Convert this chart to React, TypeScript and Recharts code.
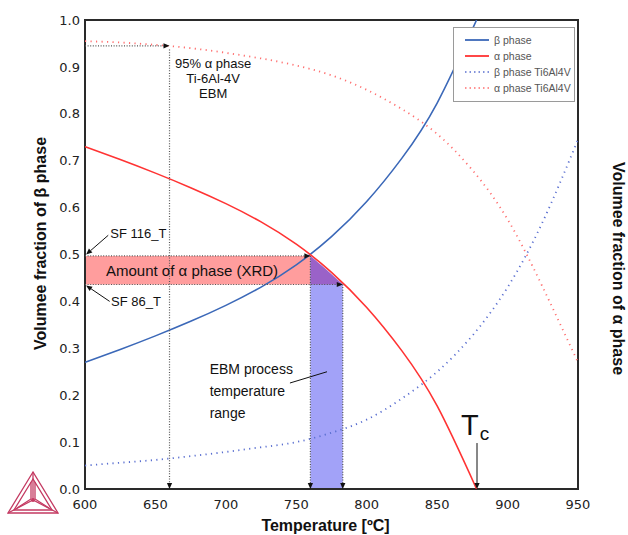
import React from 'react';
import {
  ComposedChart, Line, Area, XAxis, YAxis, ReferenceArea, ReferenceLine, ReferenceDot,
} from 'recharts';

// temperature (°C) / volume fraction
const betaT = [600, 625, 650, 675, 700, 725, 750, 775, 800, 825, 850, 878];
const betaV = [0.27, 0.2975, 0.3265, 0.3575, 0.3915, 0.4305, 0.478, 0.538, 0.613, 0.7055, 0.823, 1.0];

const alphaT = [600, 625, 650, 675, 700, 725, 750, 775, 800, 825, 850, 878];
const alphaV = [0.73, 0.7025, 0.6735, 0.6425, 0.6085, 0.5695, 0.522, 0.462, 0.387, 0.2945, 0.177, 0];

const tiT = [600, 625, 650, 675, 700, 725, 750, 775, 800, 825, 850, 875, 900, 925, 950];
const betaTiV = [0.05, 0.056, 0.062, 0.07, 0.079, 0.089, 0.1, 0.12, 0.148, 0.193, 0.25, 0.327, 0.43, 0.57, 0.745];
const alphaTiV = [0.955, 0.952, 0.947, 0.94, 0.93, 0.918, 0.903, 0.882, 0.851, 0.81, 0.757, 0.68, 0.575, 0.43, 0.27];

// EBM window, upper edge follows the α curve
const bandT = [760, 770, 783];
const bandV = [0.497, 0.471, 0.436];
const xrdLow = 0.436;
const xrdHigh = 0.497;

const xTicks = [600, 650, 700, 750, 800, 850, 900, 950];
const yTicks = [0, 0.1, 0.2, 0.3, 0.4, 0.5, 0.6, 0.7, 0.8, 0.9, 1.0];

const zip = (ts: number[], vs: number[]) => ts.map((t, i) => ({ t, v: vs[i] }));
const betaData = zip(betaT, betaV);
const alphaData = zip(alphaT, alphaV);
const betaTiData = zip(tiT, betaTiV);
const alphaTiData = zip(tiT, alphaTiV);
const bandData = zip(bandT, bandV);
const overlapData = bandT.map((t, i) => ({ t, r: [xrdLow, bandV[i]] }));

const legendItems = [
  { name: 'β phase', color: '#3b68b8', dash: '' },
  { name: 'α phase', color: '#ff3333', dash: '' },
  { name: 'β phase Ti6Al4V', color: '#5a6fd0', dash: '1.5 3' },
  { name: 'α phase Ti6Al4V', color: '#ff6f6f', dash: '1.5 3' },
];

const SANS = 'Liberation Sans, Arial, sans-serif';
const VERD = 'DejaVu Sans, Verdana, sans-serif';

// line between two data points, optional arrow head at the end
const arrow = (head: boolean, dotted: boolean) => (p: any) => {
  const { x1, y1, x2, y2 } = p;
  const dx = x2 - x1, dy = y2 - y1;
  const len = Math.hypot(dx, dy) || 1;
  const ux = dx / len, uy = dy / len;
  const L = 6, W = 2.6;
  const bx = x2 - ux * L, by = y2 - uy * L;
  return (
    <g>
      <line x1={x1} y1={y1} x2={head ? bx : x2} y2={head ? by : y2}
        stroke={dotted ? '#555' : '#111'} strokeWidth={dotted ? 1.2 : 1}
        strokeDasharray={dotted ? '1 1.6' : undefined} />
      {head && (
        <polygon fill="#111"
          points={`${x2},${y2} ${bx - uy * W},${by + ux * W} ${bx + uy * W},${by - ux * W}`} />
      )}
    </g>
  );
};

const note = (lines: string[], size: number, anchor: string, lh: number) => (p: any) => (
  <text x={p.cx} y={p.cy} fontFamily={SANS} fontSize={size} fill="#111" textAnchor={anchor}>
    {lines.map((l, i) => (
      <tspan key={i} x={p.cx} dy={i ? lh : 0}>{l}</tspan>
    ))}
  </text>
);

const tcNote = (p: any) => (
  <text x={p.cx} y={p.cy} fontFamily={SANS} fill="#111" textAnchor="middle">
    <tspan fontSize={29}>T</tspan>
    <tspan fontSize={19} dx={1} dy={5}>c</tspan>
  </text>
);

const seg = (a: [number, number], b: [number, number]) => [{ x: a[0], y: a[1] }, { x: b[0], y: b[1] }];

function Logo() {
  const c = '#c43a62';
  return (
    <svg width={66} height={60} style={{ position: 'absolute', left: 0, top: 460 }}>
      <g fill="none" stroke={c} strokeWidth={1.3}>
        <polygon points="33,12 8,53 58,53" />
        <polygon points="33,19 14,50 52,50" />
        <polyline points="33,12 33,40" />
        <polyline points="8,53 33,40 58,53" />
        <polyline points="31,22 31,39 17,48" />
        <polyline points="35,22 35,39 49,48" />
      </g>
      <circle cx={33} cy={40} r={2} fill={c} />
    </svg>
  );
}

function Legend() {
  return (
    <div style={{
      position: 'absolute', left: 453, top: 27, width: 122, height: 75,
      border: '1px solid #9a9a9a', background: '#fff', boxSizing: 'border-box',
      fontFamily: SANS, fontSize: 10.5, color: '#555',
    }}>
      {legendItems.map((it, i) => (
        <div key={it.name} style={{ position: 'absolute', left: 11, top: 5 + i * 16, height: 14, display: 'flex', alignItems: 'center' }}>
          <svg width={24} height={6} style={{ marginRight: 5 }}>
            <line x1={0} y1={3} x2={24} y2={3} stroke={it.color} strokeWidth={it.dash ? 1.6 : 1.8}
              strokeDasharray={it.dash || undefined} />
          </svg>
          <span>{it.name}</span>
        </div>
      ))}
    </div>
  );
}

const yTitle = (text: string, side: 'l' | 'r') => (p: any) => {
  const vb = p.viewBox || {};
  const mid = vb.y + vb.height / 2;
  const cy = side === 'l' ? mid - 11 : mid + 14;
  const cx = side === 'l' ? 40 : 618;
  const ang = side === 'l' ? -90 : 90;
  return (
    <text x={cx} y={cy} transform={`rotate(${ang}, ${cx}, ${cy})`} textAnchor="middle"
      dominantBaseline="central" fontFamily={SANS} fontWeight="bold" fontSize={16} fill="#111">
      {text}
    </text>
  );
};

const xTitle = (p: any) => {
  const vb = p.viewBox || {};
  const cx = vb.x + vb.width / 2 - 6;
  return (
    <text x={cx} y={531} textAnchor="middle" fontFamily={SANS} fontWeight="bold" fontSize={16} fill="#111">
      Temperature [ºC]
    </text>
  );
};

const tickStyle = { fontSize: 13, fill: '#222', fontFamily: VERD };
const ax = { xAxisId: 'b', yAxisId: 'l' } as const;

export default function App() {
  return (
    <div style={{ position: 'fixed', left: 0, top: 0, width: 628, height: 535, background: '#fff' }}>
      <ComposedChart width={628} height={535} margin={{ top: 20, right: 0, bottom: 0, left: 0 }}>
        <XAxis xAxisId="b" dataKey="t" type="number" domain={[600, 950]} ticks={xTicks} height={46}
          axisLine={false} tickLine={false} tickSize={0} tickMargin={11} tick={tickStyle}
          allowDataOverflow label={{ content: xTitle }} />
        <YAxis yAxisId="l" type="number" domain={[0, 1]} ticks={yTicks} width={85}
          axisLine={false} tickLine={false} tickSize={0} tickMargin={5} tick={tickStyle}
          tickFormatter={(v: number) => v.toFixed(1)} allowDataOverflow
          label={{ content: yTitle('Volumee fraction of β phase', 'l') }} />
        <YAxis yAxisId="r" orientation="right" type="number" domain={[0, 1]} ticks={yTicks} width={50}
          axisLine={false} tickLine={false} tickSize={0} tickMargin={5} tick={tickStyle}
          tickFormatter={(v: number) => v.toFixed(1)}
          label={{ content: yTitle('Volumee fraction of α phase', 'r') }} />

        <ReferenceArea {...ax} x1={600} x2={760} y1={xrdLow} y2={xrdHigh} fill="#ff9d9d" fillOpacity={1} stroke="none" />
        <Area {...ax} data={bandData} dataKey="v" type="linear" baseValue={0} fill="#a2a2f8" fillOpacity={1}
          stroke="none" isAnimationActive={false} />
        <Area {...ax} data={overlapData} dataKey="r" type="linear" fill="#9a62c8" fillOpacity={1}
          stroke="none" isAnimationActive={false} />

        <Line {...ax} data={alphaTiData} dataKey="v" type="natural" stroke="#ff6f6f" strokeWidth={1.8}
          strokeDasharray="1.2 4.3" dot={false} isAnimationActive={false} />
        <Line {...ax} data={betaTiData} dataKey="v" type="natural" stroke="#5a6fd0" strokeWidth={1.8}
          strokeDasharray="1.2 4.3" dot={false} isAnimationActive={false} />
        <Line {...ax} data={betaData} dataKey="v" type="natural" stroke="#3b68b8" strokeWidth={1.6}
          dot={false} isAnimationActive={false} />
        <Line {...ax} data={alphaData} dataKey="v" type="natural" stroke="#ff3333" strokeWidth={1.6}
          dot={false} isAnimationActive={false} />

        {/* dotted guides */}
        <ReferenceLine {...ax} segment={seg([600, 0.945], [660, 0.945])} shape={arrow(true, true)} />
        <ReferenceLine {...ax} segment={seg([660, 0.937], [660, 0])} shape={arrow(true, true)} />
        <ReferenceLine {...ax} segment={seg([600, xrdHigh], [760, xrdHigh])} shape={arrow(true, true)} />
        <ReferenceLine {...ax} segment={seg([600, xrdLow], [783, xrdLow])} shape={arrow(true, true)} />
        <ReferenceLine {...ax} segment={seg([760, xrdHigh], [760, 0])} shape={arrow(true, true)} />
        <ReferenceLine {...ax} segment={seg([783, xrdLow], [783, 0])} shape={arrow(true, true)} />

        {/* pointers */}
        <ReferenceLine {...ax} segment={seg([616.5, 0.541], [600.8, 0.5])} shape={arrow(true, false)} />
        <ReferenceLine {...ax} segment={seg([617.5, 0.4], [600.8, 0.434])} shape={arrow(true, false)} />
        <ReferenceLine {...ax} segment={seg([745.5, 0.226], [771.8, 0.25])} shape={arrow(false, false)} />
        <ReferenceLine {...ax} segment={seg([878.3, 0.098], [878.3, 0])} shape={arrow(true, false)} />

        <ReferenceDot {...ax} x={691} y={0.898} r={0} shape={note(['95% α phase', 'Ti-6Al-4V', 'EBM'], 13, 'middle', 15)} />
        <ReferenceDot {...ax} x={676} y={0.455} r={0} shape={note(['Amount of α phase (XRD)'], 15, 'middle', 0)} />
        <ReferenceDot {...ax} x={618} y={0.535} r={0} shape={note(['SF 116_T'], 13, 'start', 0)} />
        <ReferenceDot {...ax} x={618.5} y={0.39} r={0} shape={note(['SF 86_T'], 13, 'start', 0)} />
        <ReferenceDot {...ax} x={688.5} y={0.245} r={0} shape={note(['EBM process', 'temperature', 'range'], 14, 'start', 22)} />
        <ReferenceDot {...ax} x={877} y={0.115} r={0} shape={tcNote} />

        <ReferenceArea {...ax} x1={600} x2={950} y1={0} y2={1} fill="none" stroke="#2a2a2a" strokeWidth={2} />
      </ComposedChart>
      <Legend />
      <Logo />
    </div>
  );
}
